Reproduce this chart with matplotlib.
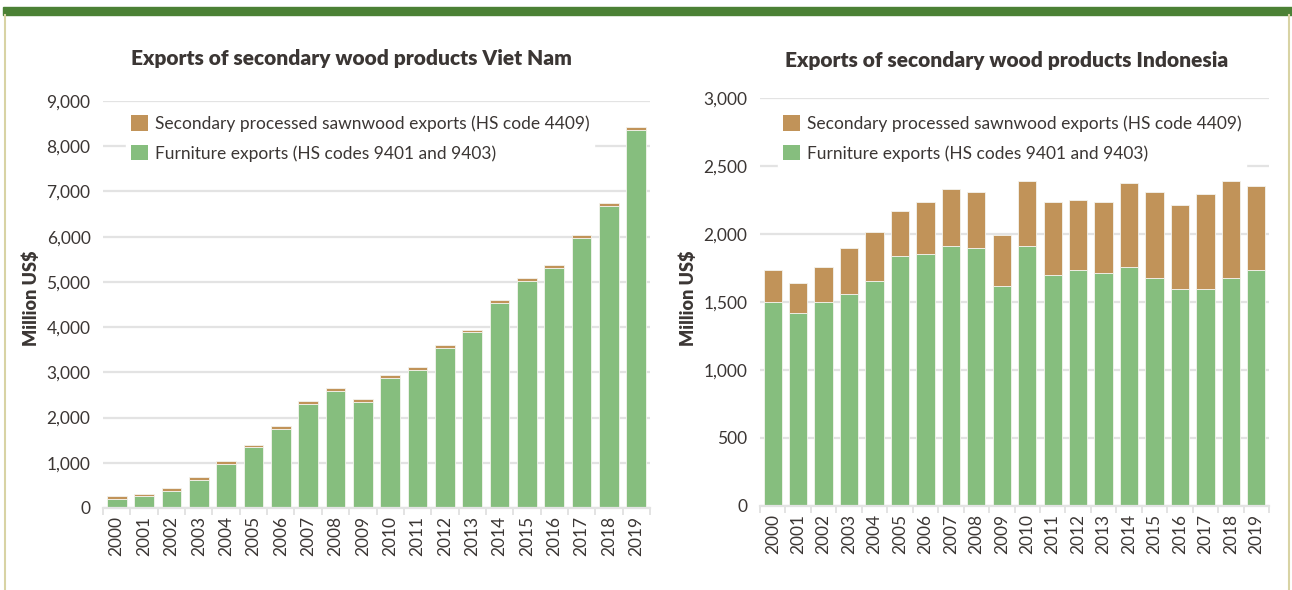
import numpy as np
import matplotlib.pyplot as plt
from matplotlib.patches import Rectangle, Patch
from matplotlib.lines import Line2D

plt.rcParams['font.family'] = ['Lato', 'DejaVu Sans']

years = [str(y) for y in range(2000, 2020)]

# Viet Nam, million US$
vn_furniture = [200, 258, 378, 622, 984, 1340, 1755, 2296, 2592, 2355,
                2876, 3060, 3532, 3885, 4539, 5018, 5311, 5974, 6689, 8351]
vn_sawnwood = [58, 60, 66, 58, 60, 60, 67, 66, 59, 59,
               60, 53, 66, 58, 59, 66, 60, 59, 58, 66]

# Indonesia, million US$
id_furniture = [1497, 1419, 1497, 1559, 1657, 1838, 1855, 1914, 1897, 1618,
                1914, 1699, 1735, 1715, 1757, 1679, 1598, 1598, 1679, 1735]
id_total = [1737, 1637, 1757, 1897, 2017, 2171, 2232, 2331, 2311, 1995,
            2392, 2232, 2252, 2232, 2372, 2311, 2213, 2294, 2392, 2353]
id_sawnwood = [t - f for t, f in zip(id_total, id_furniture)]

lab_saw = 'Secondary processed sawnwood exports (HS code 4409)'
lab_fur = 'Furniture exports (HS codes 9401 and 9403)'

GREEN = '#86be7e'
BROWN = '#c19359'
TXT = '#3b3634'
GRID = '#e3e3e3'

W, H = 1292, 590
fig = plt.figure(figsize=(W / 100, H / 100), dpi=100)


def px_axes(x0, y_top, x1, y_bot):
    return fig.add_axes([x0 / W, 1 - y_bot / H, (x1 - x0) / W, (y_bot - y_top) / H])


def draw(ax, fur, saw, ymax, step, title, tx, ty, ylx, legx, legy):
    x = np.arange(len(years))
    ax.set_axisbelow(True)
    ax.bar(x, fur, width=0.72, color=GREEN, edgecolor='#f4f4ee', linewidth=0.6, zorder=2)
    ax.bar(x, saw, bottom=fur, width=0.72, color=BROWN, edgecolor='#f4f4ee', linewidth=0.6, zorder=2)
    ax.set_xlim(-0.5, len(years) - 0.5)
    ax.set_ylim(0, ymax)
    ax.set_yticks(np.arange(0, ymax + 1, step))
    ax.set_yticklabels([f'{v:,}' for v in range(0, ymax + 1, step)])
    ax.yaxis.grid(True, color=GRID, linewidth=1.6)
    ax.set_xticks(x)
    ax.set_xticklabels(years, rotation=90)
    ax.set_xticks(np.arange(-0.5, len(years), 1), minor=True)
    ax.tick_params(axis='x', which='major', length=0, pad=6, labelsize=12.5, labelcolor=TXT)
    ax.tick_params(axis='x', which='minor', length=5, color=GRID, width=1.4)
    ax.tick_params(axis='y', length=0, pad=9, labelsize=12.5, labelcolor=TXT)
    for s in ['top', 'right', 'left']:
        ax.spines[s].set_visible(False)
    ax.spines['bottom'].set_color(GRID)
    ax.spines['bottom'].set_linewidth(1.6)

    fig.text(tx / W, 1 - ty / H, title, ha='center', va='center',
             fontsize=15, fontweight='heavy', color=TXT)
    fig.text(ylx / W, 1 - 298 / H, 'Million US$', rotation=90, ha='center', va='center',
             fontsize=13, fontweight='heavy', color=TXT)

    handles = [Patch(facecolor=BROWN, label=lab_saw), Patch(facecolor=GREEN, label=lab_fur)]
    leg = ax.legend(handles=handles, loc='upper left',
                    bbox_to_anchor=(legx / W, 1 - legy / H), bbox_transform=fig.transFigure,
                    frameon=True, fancybox=False, edgecolor='white', framealpha=1,
                    fontsize=12.5, handlelength=0.95, handleheight=1.0, handletextpad=0.4,
                    labelspacing=0.75, borderpad=0.3, borderaxespad=0)
    for t in leg.get_texts():
        t.set_color(TXT)


ax1 = px_axes(103, 101, 650, 508)
draw(ax1, vn_furniture, vn_sawnwood, 9000, 1000,
     'Exports of secondary wood products Viet Nam', 351, 58, 31, 126, 110)

ax2 = px_axes(760, 98, 1269, 506)
draw(ax2, id_furniture, id_sawnwood, 3000, 500,
     'Exports of secondary wood products Indonesia', 1007, 61, 688, 778, 110)

# page frame
fig.patches.append(Rectangle((3 / W, 1 - 15 / H), (W - 3) / W, 8 / H,
                             transform=fig.transFigure, color='#4b8135', zorder=0))
fig.lines.append(Line2D([4.5 / W, 4.5 / W], [0, 1 - 15 / H], transform=fig.transFigure,
                        color='#d8d3a4', linewidth=1.5))
fig.lines.append(Line2D([1288.5 / W, 1288.5 / W], [0, 1 - 15 / H], transform=fig.transFigure,
                        color='#d8d3a4', linewidth=1.5))

fig.savefig('out.png', dpi=100)
